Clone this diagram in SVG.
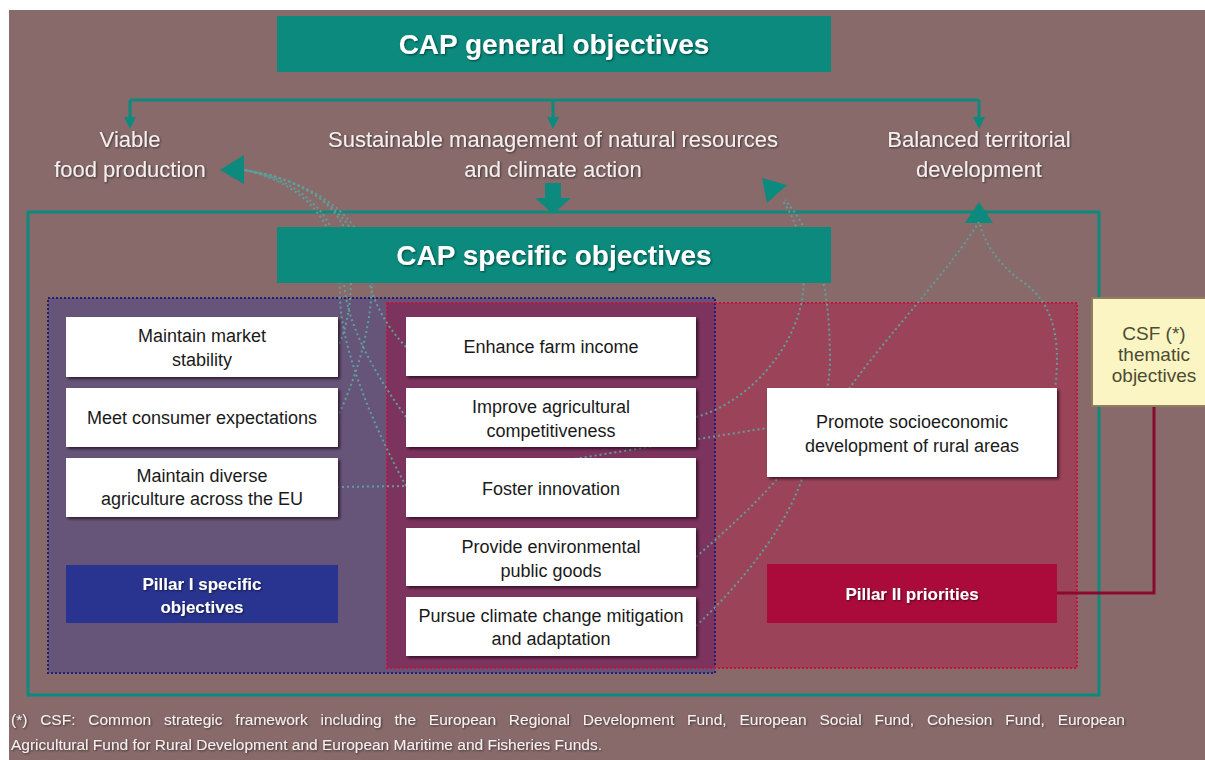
<svg xmlns="http://www.w3.org/2000/svg" width="1205" height="760" viewBox="0 0 1205 760">
<defs>
<style>
text{font-family:"Liberation Sans",Arial,sans-serif}
.head{fill:#fff;font-size:28px;font-weight:bold;text-anchor:middle;filter:url(#ts)}
.gobj{fill:#f4eeee;font-size:22px;text-anchor:middle;filter:url(#ts)}
.box{fill:#fff;filter:url(#bs)}
.bt{fill:#1a1a1a;font-size:18px;text-anchor:middle}
.pt{fill:#fff;font-size:17px;font-weight:bold;text-anchor:middle;filter:url(#ts)}
.teal{fill:#0b8a7d}
.tl{fill:none;stroke:#0b8a7d;stroke-width:3}
.dot{fill:none;stroke:#5f9f9b;stroke-width:2;stroke-dasharray:2 3}
.foot{fill:#f6f0f0;font-size:15.5px;filter:url(#ts)}
</style>
<filter id="ts" x="-5%" y="-20%" width="110%" height="150%"><feDropShadow dx="1" dy="1" stdDeviation="1" flood-color="#000" flood-opacity="0.55"/></filter>
<filter id="bs" x="-5%" y="-10%" width="112%" height="125%"><feDropShadow dx="2" dy="2" stdDeviation="1.5" flood-color="#1a0010" flood-opacity="0.7"/></filter>
</defs>
<rect x="0" y="0" width="1205" height="760" fill="#ffffff"/>
<rect x="9" y="10" width="1196" height="750" fill="#886a6a"/>

<g id="frame">
<rect x="28" y="212" width="1071" height="483" class="tl"/>
</g>

<g id="pillar-regions">
<rect x="48" y="298" width="667" height="375" fill="#675579"/>
<rect x="387" y="303" width="690" height="365" fill="#9b4459"/>
<rect x="387" y="303" width="328" height="365" fill="#7c335e"/>
<rect x="48" y="298" width="667" height="375" fill="none" stroke="#1f1f7a" stroke-width="2" stroke-dasharray="2 2"/>
<rect x="387" y="303" width="690" height="365" fill="none" stroke="#c8103f" stroke-width="2" stroke-dasharray="2 2"/>
</g>

<g id="connectors">
<path class="tl" d="M130,100 H979 M130,100 V118 M553,100 V118 M979,100 V118"/>
<polygon class="teal" points="124,117 136,117 130,129"/>
<polygon class="teal" points="547,117 559,117 553,129"/>
<polygon class="teal" points="973,117 985,117 979,129"/>
<rect class="teal" x="545" y="183" width="16" height="16"/>
<polygon class="teal" points="535,198 571,198 553,214"/>
<polygon class="teal" points="979,202 965,223 993,223"/>
<polygon class="teal" points="220,170 244,155 244,184"/>
<polygon class="teal" points="762,178 787,185 767,203"/>
<path class="dot" d="M337,348 C352,320 352,280 350,250 C346,205 300,178 244,170"/>
<path class="dot" d="M337,418 C360,370 372,320 372,280 C370,215 310,180 244,170"/>
<path class="dot" d="M406,347 C385,325 372,300 366,270 C360,215 305,178 244,170"/>
<path class="dot" d="M406,417 C372,370 345,320 344,280 C342,215 300,180 244,170"/>
<path class="dot" d="M406,486 C370,420 338,340 340,290 C342,220 300,182 244,170"/>
<path class="dot" d="M337,487 L406,486 L767,428"/>
<path class="dot" d="M696,417 C740,405 790,360 802,300 C808,260 800,225 782,200"/>
<path class="dot" d="M696,557 C760,500 830,440 830,360 C830,280 815,235 785,200"/>
<path class="dot" d="M696,626 C750,575 790,520 805,470 C829,390 930,300 979,222"/>
<path class="dot" d="M1055,390 C1062,330 1050,300 1020,280 C1000,265 985,245 980,224"/>
<path d="M1057,593 H1154 V406" fill="none" stroke="#8a0a2e" stroke-width="3"/>
</g>

<g id="general-objectives">
<rect class="teal" x="277" y="16" width="554" height="56"/>
<text class="head" x="554" y="54">CAP general objectives</text>
</g>

<g id="goal-viable">
<text class="gobj" x="130" y="147">Viable</text>
<text class="gobj" x="130" y="177">food production</text>
</g>
<g id="goal-sustainable">
<text class="gobj" x="553" y="147">Sustainable management of natural resources</text>
<text class="gobj" x="553" y="177">and climate action</text>
</g>
<g id="goal-balanced">
<text class="gobj" x="979" y="147">Balanced territorial</text>
<text class="gobj" x="979" y="177">development</text>
</g>

<g id="specific-objectives">
<rect class="teal" x="277" y="227" width="554" height="56"/>
<text class="head" x="554" y="265">CAP specific objectives</text>
</g>

<g id="market-stability">
<rect class="box" x="66" y="317" width="272" height="60"/>
<text class="bt" x="202" y="342">Maintain market</text>
<text class="bt" x="202" y="366">stability</text>
</g>
<g id="consumer-expectations">
<rect class="box" x="66" y="388" width="272" height="59"/>
<text class="bt" x="202" y="424">Meet consumer expectations</text>
</g>
<g id="diverse-agriculture">
<rect class="box" x="66" y="458" width="272" height="59"/>
<text class="bt" x="202" y="482">Maintain diverse</text>
<text class="bt" x="202" y="505">agriculture across the EU</text>
</g>
<g id="pillar1">
<rect x="66" y="565" width="272" height="58" fill="#28348f"/>
<text class="pt" x="202" y="590">Pillar I specific</text>
<text class="pt" x="202" y="613">objectives</text>
</g>

<g id="farm-income">
<rect class="box" x="406" y="317" width="290" height="59"/>
<text class="bt" x="551" y="353">Enhance farm income</text>
</g>
<g id="competitiveness">
<rect class="box" x="406" y="388" width="290" height="59"/>
<text class="bt" x="551" y="413">Improve agricultural</text>
<text class="bt" x="551" y="437">competitiveness</text>
</g>
<g id="innovation">
<rect class="box" x="406" y="458" width="290" height="59"/>
<text class="bt" x="551" y="495">Foster innovation</text>
</g>
<g id="public-goods">
<rect class="box" x="406" y="528" width="290" height="58"/>
<text class="bt" x="551" y="553">Provide environmental</text>
<text class="bt" x="551" y="577">public goods</text>
</g>
<g id="climate">
<rect class="box" x="406" y="597" width="290" height="59"/>
<text class="bt" x="551" y="622">Pursue climate change mitigation</text>
<text class="bt" x="551" y="645">and adaptation</text>
</g>

<g id="rural-development">
<rect class="box" x="767" y="388" width="290" height="89"/>
<text class="bt" x="912" y="428">Promote socioeconomic</text>
<text class="bt" x="912" y="452">development of rural areas</text>
</g>
<g id="pillar2">
<rect x="767" y="564" width="290" height="59" fill="#aa0b3b"/>
<text class="pt" x="912" y="600">Pillar II priorities</text>
</g>

<g id="csf">
<rect x="1092" y="298" width="125" height="108" fill="#faf5c2" stroke="#8c8060" stroke-width="2"/>
<text x="1154" y="340" fill="#4d4b32" font-size="19" text-anchor="middle">CSF (*)</text>
<text x="1154" y="361" fill="#4d4b32" font-size="19" text-anchor="middle">thematic</text>
<text x="1154" y="382" fill="#4d4b32" font-size="19" text-anchor="middle">objectives</text>
</g>

<g id="footnote">
<text class="foot" x="11" y="725" word-spacing="8.5">(*) CSF: Common strategic framework including the European Regional Development Fund, European Social Fund, Cohesion Fund, European</text>
<text class="foot" x="11" y="750">Agricultural Fund for Rural Development and European Maritime and Fisheries Funds.</text>
</g>
</svg>
